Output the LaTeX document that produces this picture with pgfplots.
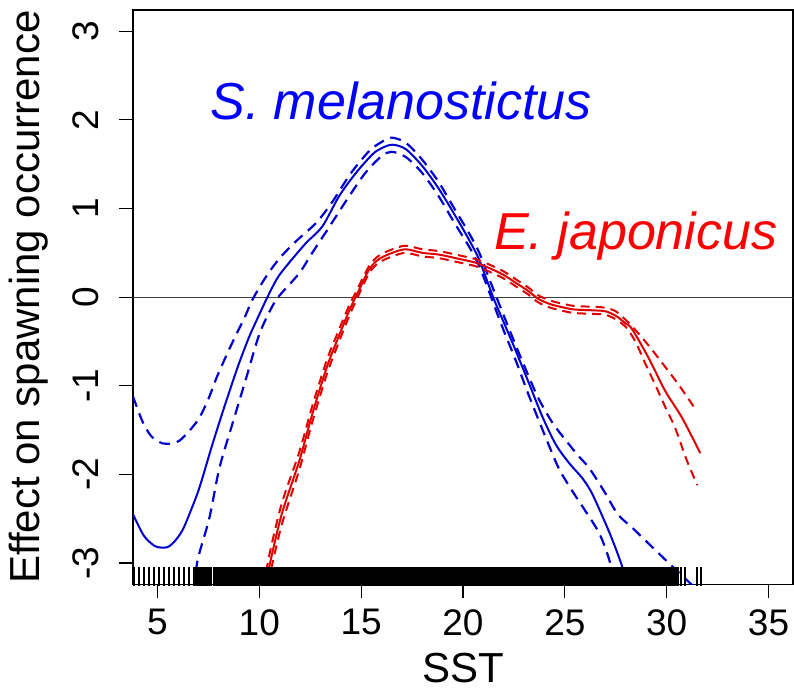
\documentclass[border=0pt]{standalone}
\usepackage{fontspec}
\setmainfont{Liberation Sans}
\usepackage{pgfplots}
\pgfplotsset{compat=1.18}
\definecolor{cblue}{RGB}{0,0,210}
\definecolor{cred}{RGB}{225,0,0}
\definecolor{tblue}{RGB}{0,0,255}
\definecolor{tred}{RGB}{255,0,0}
\begin{document}
\begin{tikzpicture}
\begin{axis}[
  at={(0,0)}, anchor=south west,
  scale only axis, width=660pt, height=574.3pt,
  xmin=3.8, xmax=36.2, ymin=-3.24, ymax=3.24,
  xtick={5,10,15,20,25,30,35}, ytick={-3,-2,-1,0,1,2,3},
  tick pos=left, tick align=outside, major tick length=14pt,
  every tick/.style={black, line width=1.2pt},
  axis line style={line width=1.2pt},
  /pgf/number format/assume math mode=true,
  tick label style={font=\fontsize{37}{40}\selectfont},
  xticklabel style={anchor=center, yshift=-24pt},
  yticklabel style={xshift=-33pt, rotate=90, anchor=center},
  xlabel={SST}, ylabel={Effect on spawning occurrence},
  label style={font=\fontsize{42}{46}\selectfont},
  xlabel style={at={(axis description cs:0.5,-0.12)}, anchor=north, inner sep=0pt},
  ylabel style={at={(axis description cs:-0.158,0.5)}, anchor=center},
]
% zero line
\addplot[black!75, line width=1.2pt] coordinates {(3.8,0) (36.2,0)};
% S. melanostictus fit
\addplot[cblue, line width=2pt, smooth] coordinates {
(3.8,-2.45) (4.3,-2.68) (4.7,-2.78) (5.0,-2.82) (5.5,-2.82) (5.9,-2.74) (6.25,-2.62)
(6.6,-2.43) (7.06,-2.15) (7.7,-1.66) (8.38,-1.17) (9.0,-0.75) (9.5,-0.45) (9.85,-0.27)
(10.4,0.0) (10.9,0.22) (11.47,0.39) (12.29,0.61) (13.1,0.80) (13.92,1.14) (14.74,1.40)
(15.55,1.61) (16.0,1.68) (16.53,1.72) (17.19,1.67) (18.0,1.48) (18.82,1.22) (19.64,0.91)
(20.29,0.65) (20.78,0.43) (21.27,0.13) (21.6,-0.07) (22.4,-0.50) (23.2,-0.95) (23.9,-1.35)
(24.55,-1.66) (25.2,-1.87) (25.85,-2.04) (26.3,-2.20) (26.8,-2.45) (27.3,-2.72) (27.8,-3.03)
(28.2,-3.35)};
% upper CI
\addplot[cblue, line width=2.2pt, dash pattern=on 11pt off 7pt, smooth] coordinates {
(3.8,-1.12) (4.26,-1.40) (4.7,-1.57) (5.25,-1.65) (5.7,-1.65) (6.08,-1.62) (6.6,-1.50)
(7.06,-1.36) (7.5,-1.15) (7.9,-0.91) (8.4,-0.65) (8.87,-0.42) (9.3,-0.22) (9.66,-0.03)
(10.3,0.22) (11.0,0.44) (11.8,0.63) (12.8,0.84) (13.6,1.08) (14.5,1.40) (15.4,1.65)
(16.0,1.75) (16.5,1.80) (17.2,1.74) (18.0,1.55) (18.8,1.30) (19.6,0.99) (20.3,0.72)
(20.8,0.50) (21.3,0.20) (21.9,-0.15) (22.6,-0.55) (23.2,-0.88) (23.7,-1.14) (24.4,-1.42)
(25.2,-1.66) (25.7,-1.80) (26.2,-1.93) (26.9,-2.18) (27.6,-2.45) (28.3,-2.60) (29.2,-2.80)
(30.1,-3.00) (31.3,-3.26)};
% lower CI
\addplot[cblue, line width=2.2pt, dash pattern=on 11pt off 7pt, smooth] coordinates {
(6.85,-3.3) (6.96,-2.98) (7.55,-2.49) (8.04,-1.93) (8.68,-1.43) (9.36,-0.91) (10.0,-0.42)
(10.6,-0.12) (11.0,0.02) (11.96,0.27) (12.6,0.50) (13.4,0.78) (14.3,1.10) (15.2,1.40)
(16.0,1.59) (16.5,1.64) (17.2,1.58) (18.0,1.40) (18.8,1.14) (19.6,0.83) (20.3,0.57)
(20.8,0.35) (21.3,0.05) (21.9,-0.32) (22.6,-0.72) (23.2,-1.09) (24.0,-1.55) (24.7,-1.93)
(25.4,-2.20) (26.0,-2.41) (26.7,-2.67) (27.2,-2.98) (27.5,-3.3)};
% E. japonicus fit
\addplot[cred, line width=2pt, smooth] coordinates {
(10.35,-3.25) (10.5,-3.03) (11.1,-2.45) (11.96,-1.85) (12.6,-1.32) (13.3,-0.80) (13.8,-0.50)
(14.4,-0.16) (14.75,0.01) (15.39,0.31) (15.88,0.43) (16.53,0.50) (17.19,0.54) (18.0,0.50)
(18.82,0.48) (19.64,0.44) (20.6,0.39) (21.27,0.33) (22.0,0.25) (22.6,0.16) (23.2,0.07)
(23.7,-0.02) (24.3,-0.08) (25.0,-0.12) (25.5,-0.14) (26.5,-0.15) (27.0,-0.16) (27.5,-0.21)
(28.0,-0.30) (28.3,-0.36) (29.12,-0.69) (29.93,-1.06) (30.75,-1.36) (31.65,-1.76)};
\addplot[cred, line width=2pt, dash pattern=on 9pt off 6pt, smooth] coordinates {
(10.35,-3.10) (10.5,-2.90) (11.1,-2.33) (11.96,-1.75) (12.6,-1.23) (13.3,-0.72) (13.8,-0.43)
(14.4,-0.10) (14.75,0.06) (15.39,0.35) (15.88,0.47) (16.53,0.54) (17.19,0.58) (18.0,0.54)
(18.82,0.52) (19.64,0.48) (20.6,0.43) (21.27,0.37) (22.0,0.29) (22.6,0.20) (23.2,0.11)
(23.7,0.02) (24.3,-0.04) (25.0,-0.08) (25.5,-0.10) (26.5,-0.11) (27.0,-0.12) (27.5,-0.16)
(28.0,-0.26) (28.3,-0.33) (28.95,-0.50) (29.77,-0.74) (30.59,-0.99) (31.4,-1.26)};
\addplot[cred, line width=2pt, dash pattern=on 9pt off 6pt, smooth] coordinates {
(10.35,-3.40) (10.5,-3.16) (11.1,-2.57) (11.96,-1.95) (12.6,-1.41) (13.3,-0.88) (13.8,-0.57)
(14.4,-0.22) (14.75,-0.04) (15.39,0.27) (15.88,0.39) (16.53,0.46) (17.19,0.50) (18.0,0.46)
(18.82,0.44) (19.64,0.40) (20.6,0.35) (21.27,0.29) (22.0,0.21) (22.6,0.12) (23.2,0.03)
(23.7,-0.06) (24.3,-0.12) (25.0,-0.16) (25.5,-0.18) (26.5,-0.19) (27.0,-0.20) (27.5,-0.25)
(28.0,-0.34) (28.46,-0.50) (28.95,-0.75) (29.44,-0.99) (29.93,-1.24) (30.42,-1.48)
(31.0,-1.85) (31.5,-2.12)};
% rug (sparse)
\addplot[only marks, mark=|, mark size=9.2pt, mark options={black, line width=1.8pt}]
table[x index=0, y expr=-3.153] {
x
3.85
4.10
4.34
4.59
4.83
5.08
5.32
5.57
5.81
6.06
6.30
6.55
6.79
30.55
30.70
30.90
31.50
31.70
};
% rug (dense)
\addplot[only marks, mark=|, mark size=9.2pt, mark options={black, line width=4.4pt}]
table[x index=0, y expr=-3.153] {
x
6.95
7.15
7.35
7.55
7.85
8.05
8.25
8.45
8.65
8.85
9.05
9.25
9.45
9.65
9.85
10.05
10.25
10.45
10.65
10.85
11.05
11.25
11.45
11.65
11.85
12.05
12.25
12.45
12.65
12.85
13.05
13.25
13.45
13.65
13.85
14.05
14.25
14.45
14.65
14.85
15.05
15.25
15.45
15.65
15.85
16.05
16.25
16.45
16.65
16.85
17.05
17.25
17.45
17.65
17.85
18.05
18.25
18.45
18.65
18.85
19.05
19.25
19.45
19.65
19.85
20.05
20.25
20.45
20.65
20.85
21.05
21.25
21.45
21.65
21.85
22.05
22.25
22.45
22.65
22.85
23.05
23.25
23.45
23.65
23.85
24.05
24.25
24.45
24.65
24.85
25.05
25.25
25.45
25.65
25.85
26.05
26.25
26.45
26.65
26.85
27.05
27.25
27.45
27.65
27.85
28.05
28.25
28.45
28.65
28.85
29.05
29.25
29.45
29.65
29.85
30.05
30.25
30.40
};
\node[text=tblue, font=\fontsize{52}{60}\selectfont\itshape] at (axis cs:16.96,2.21) {S. melanostictus};
\node[text=tred, font=\fontsize{52}{60}\selectfont\itshape] at (axis cs:28.48,0.69) {E. japonicus};
\end{axis}
\pgfresetboundingbox
\path[use as bounding box] (-133pt,-115.7pt) rectangle (661pt,584.3pt);
\end{tikzpicture}
\end{document}
